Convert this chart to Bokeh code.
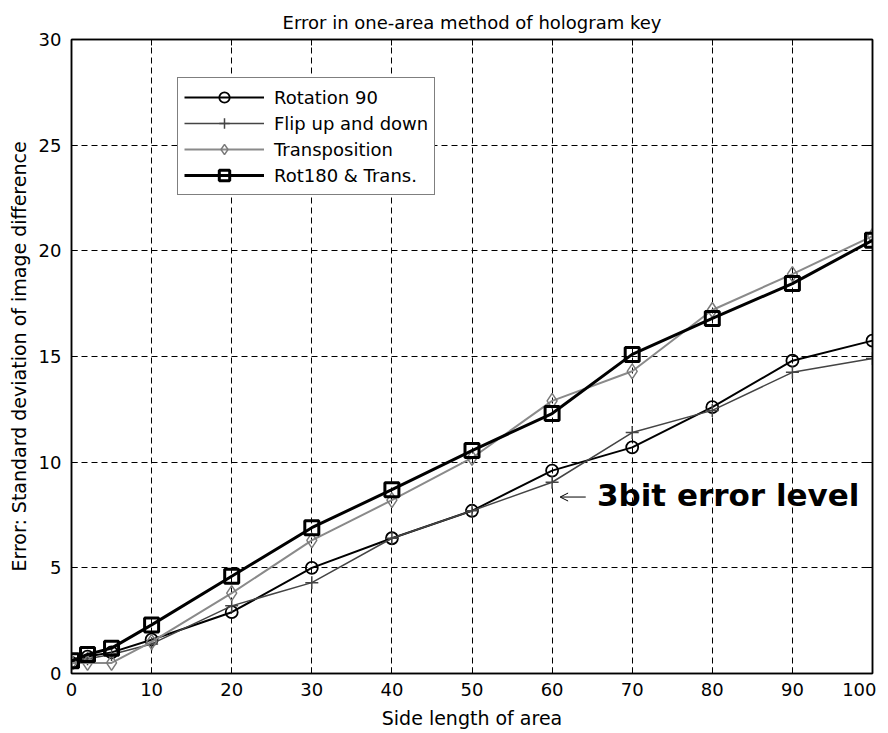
from bokeh.plotting import figure
from bokeh.models import (Legend, LegendItem, LinearAxis, Arrow, OpenHead, Label,
                          FixedTicker, Range1d, CustomJSTickFormatter)
from bokeh.embed import file_html
from bokeh.resources import INLINE

# ---- data ----
side = [0, 2, 5, 10, 20, 30, 40, 50, 60, 70, 80, 90, 100]
rot90 = [0.5, 0.8, 1.0, 1.6, 2.9, 5.0, 6.4, 7.7, 9.6, 10.7, 12.6, 14.8, 15.75]
flip = [0.5, 0.7, 0.9, 1.4, 3.2, 4.3, 6.4, 7.7, 9.05, 11.4, 12.45, 14.25, 14.9]
trans = [0.5, 0.5, 0.5, 1.5, 3.8, 6.3, 8.2, 10.2, 12.9, 14.3, 17.2, 18.9, 20.7]
rot180 = [0.6, 0.9, 1.2, 2.3, 4.6, 6.9, 8.7, 10.55, 12.3, 15.1, 16.8, 18.45, 20.5]

x_ticks = [0, 10, 20, 30, 40, 50, 60, 70, 80, 90, 100]
y_ticks = [0, 5, 10, 15, 20, 25, 30]

title_text = "Error in one-area method of hologram key"
x_label = "Side length of area"
y_label = "Error: Standard deviation of image difference"
names = ["Rotation 90", "Flip up and down", "Transposition", "Rot180 & Trans."]

annot_text = "3bit error level"
annot_x, annot_y = 65.6, 8.45
arrow_start, arrow_end, arrow_y = 64.2, 61.0, 8.35

FONT = "DejaVu Sans"

p = figure(frame_width=801, frame_height=634, output_backend="svg", toolbar_location=None,
           x_range=Range1d(0, 100), y_range=Range1d(0, 30),
           min_border_left=71, min_border_right=4, min_border_top=39, min_border_bottom=10,
           background_fill_color="white", border_fill_color="white",
           x_axis_label=x_label, y_axis_label=y_label)

p.title.text = title_text
p.title.align = "center"
p.title.text_font = FONT
p.title.text_font_size = "18px"
p.title.text_font_style = "normal"
p.title.text_color = "black"
p.title.standoff = 14

p.outline_line_color = "black"
p.outline_line_width = 1.5

for ax in (p.xaxis[0], p.yaxis[0]):
    ax.major_tick_in = 6
    ax.major_tick_out = 0
    ax.minor_tick_in = 0
    ax.minor_tick_out = 0
    ax.axis_line_color = "black"
    ax.axis_line_width = 1.5
    ax.major_tick_line_color = "black"
    ax.major_label_text_font = FONT
    ax.major_label_text_font_size = "18px"
    ax.major_label_text_color = "black"
    ax.axis_label_text_font = FONT
    ax.axis_label_text_font_size = "19px"
    ax.axis_label_text_font_style = "normal"
    ax.axis_label_text_color = "black"

p.xaxis[0].ticker = FixedTicker(ticks=x_ticks)
p.yaxis[0].ticker = FixedTicker(ticks=y_ticks)
p.xaxis[0].major_label_standoff = 9
p.yaxis[0].major_label_standoff = 10
p.xaxis[0].axis_label_standoff = 8
p.yaxis[0].axis_label_standoff = 6

# mirrored ticks on top and right (no labels)
for loc, tk in (("above", x_ticks), ("right", y_ticks)):
    ax = LinearAxis(ticker=FixedTicker(ticks=tk), major_tick_in=6, major_tick_out=0,
                    minor_tick_in=0, minor_tick_out=0,
                    formatter=CustomJSTickFormatter(code="return ''"),
                    major_label_standoff=0, axis_line_color="black", axis_line_width=1.5,
                    major_tick_line_color="black")
    p.add_layout(ax, loc)

p.xgrid.ticker = FixedTicker(ticks=x_ticks)
p.ygrid.ticker = FixedTicker(ticks=y_ticks)
for g in (p.xgrid[0], p.ygrid[0]):
    g.grid_line_color = "black"
    g.grid_line_dash = "6 4"
    g.grid_line_width = 1

# series
l1 = p.line(side, rot90, line_color="black", line_width=2)
s1 = p.scatter(side, rot90, marker="circle", size=12, fill_color=None,
               line_color="black", line_width=1.8)
l2 = p.line(side, flip, line_color="#444444", line_width=1.5)
s2 = p.scatter(side, flip, marker="cross", size=13, line_color="#444444", line_width=1.5)
l3 = p.line(side, trans, line_color="#8a8a8a", line_width=2)
s3 = p.scatter(side, trans, marker="diamond", size=15, fill_color=None,
               line_color="#7a7a7a", line_width=1.5)
l4 = p.line(side, rot180, line_color="black", line_width=3)
s4 = p.scatter(side, rot180, marker="square", size=14, fill_color=None,
               line_color="black", line_width=3)

legend = Legend(items=[
    LegendItem(label=names[0], renderers=[l1, s1]),
    LegendItem(label=names[1], renderers=[l2, s2]),
    LegendItem(label=names[2], renderers=[l3, s3]),
    LegendItem(label=names[3], renderers=[l4, s4]),
], location=(106, 478), orientation="vertical")
legend.border_line_color = "black"
legend.border_line_width = 1
legend.background_fill_color = "white"
legend.background_fill_alpha = 1
legend.label_text_font = FONT
legend.label_text_font_size = "18px"
legend.label_text_color = "black"
legend.glyph_width = 80
legend.glyph_height = 26
legend.label_height = 26
legend.label_standoff = 10
legend.spacing = 0
legend.padding = 6
legend.margin = 0
p.add_layout(legend, "center")

# annotation
p.add_layout(Arrow(end=OpenHead(size=8, line_width=1, line_color="black"),
                   x_start=arrow_start, y_start=arrow_y, x_end=arrow_end, y_end=arrow_y,
                   line_width=1, line_color="black"))
p.add_layout(Label(x=annot_x, y=annot_y, text=annot_text, text_font=FONT,
                   text_font_size="31px", text_font_style="bold", text_color="black",
                   text_baseline="middle", text_align="left"))

open("out.html", "w").write(file_html(p, INLINE))
